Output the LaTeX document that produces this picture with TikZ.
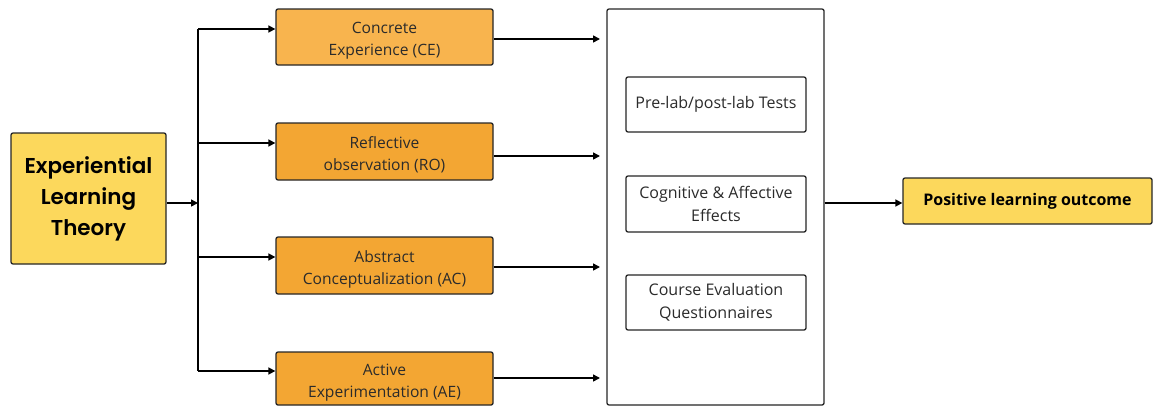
\documentclass[tikz,border=0pt]{standalone}
\usepackage{fontspec}
\setmainfont{Open Sans}
\newfontfamily\titlefont{Poppins}[BoldFont={Poppins SemiBold}]
\usetikzlibrary{arrows.meta}
\definecolor{sun}{HTML}{FCD85C}
\definecolor{ceorange}{HTML}{F8B44E}
\definecolor{deeporange}{HTML}{F3A633}
\definecolor{ink}{HTML}{2B2B2B}
% taller first line, pushes two-line stage labels slightly down
\newcommand{\stagestrut}{\rule{0pt}{19pt}}
\tikzset{
  box/.style={draw=black!85, line width=1.3pt, rounded corners=2pt, align=center, inner sep=0pt},
  stagebox/.style={box, minimum width=217pt, minimum height=56pt, fill=deeporange, text=ink,
    font=\fontsize{15.6}{22}\selectfont},
  measurebox/.style={box, minimum width=180pt, minimum height=55pt, fill=white, text=ink, font=\fontsize{16}{23.5}\selectfont},
  arr/.style={line width=1.6pt, -{Triangle[length=7pt,width=7pt]}},
  wire/.style={line width=1.6pt}
}
\begin{document}
\begin{tikzpicture}[x=1pt,y=-1pt]
\useasboundingbox (0,0) rectangle (1160,407);

% theory
\node[box, fill=sun, minimum width=155pt, minimum height=131pt,
      font=\titlefont\bfseries\fontsize{21.5}{31}\selectfont] (elt) at (88.5,198.5)
      {Experiential\\Learning\\Theory};

% the four stages
\node[stagebox, fill=ceorange] (ce) at (384.5,37) {\stagestrut Concrete\\Experience (CE)};
\node[stagebox, minimum height=57pt] (ro) at (384.5,151.5) {\stagestrut Reflective\\observation (RO)};
\node[stagebox, minimum height=57pt] (ac) at (384.5,265.5) {\stagestrut Abstract\\Conceptualization (AC)};
\node[stagebox, minimum height=53pt] (ae) at (384.5,378.5) {\stagestrut Active\\Experimentation (AE)};

% assessment instruments
\node[box, fill=white, minimum width=217pt, minimum height=396pt] (big) at (715.5,207) {};
\node[measurebox] (pre) at (716,104.5) {Pre-lab/post-lab Tests};
\node[measurebox, minimum height=56pt] (cog) at (716,204) {Cognitive \& Affective\\Effects};
\node[measurebox] (course) at (716,302.5) {Course Evaluation\\Questionnaires};

% outcome
\node[box, fill=sun, minimum width=249pt, minimum height=46pt,
      font=\bfseries\fontsize{16}{18}\selectfont] (out) at (1027.5,201) {Positive learning outcome};

% branching trunk
\coordinate (tmid) at (198,203);
\coordinate (ttop) at (198,29);
\coordinate (tro) at (198,143);
\coordinate (tac) at (198,257);
\coordinate (tbot) at (198,371);
\draw[arr] (elt.east |- tmid) -- (tmid);
\draw[wire] (ttop) -- (tbot);
\draw[arr] (ttop) -- (ce.west |- ttop);
\draw[arr] (tro) -- (ro.west |- tro);
\draw[arr] (tac) -- (ac.west |- tac);
\draw[arr] (tbot) -- (ae.west |- tbot);

% stages into instruments
\coordinate (ice) at (600,39);
\coordinate (iro) at (600,156);
\coordinate (iac) at (600,267);
\coordinate (iae) at (600,378);
\draw[arr] (ce.east |- ice) -- (ice);
\draw[arr] (ro.east |- iro) -- (iro);
\draw[arr] (ac.east |- iac) -- (iac);
\draw[arr] (ae.east |- iae) -- (iae);

% instruments to outcome
\draw[arr] (big.east |- tmid) -- (out.west |- tmid);
\end{tikzpicture}
\end{document}
